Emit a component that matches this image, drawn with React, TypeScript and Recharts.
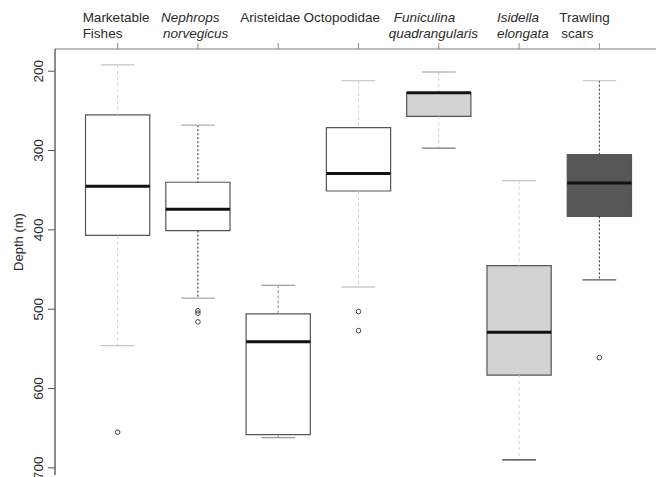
import React from "react";
import {
  ComposedChart,
  XAxis,
  YAxis,
  Scatter,
  ReferenceArea,
  ReferenceLine,
  Label,
} from "recharts";

// depth distribution (m) per category, one entry per box
const categories = [
  "Marketable Fishes",
  "Nephrops norvegicus",
  "Aristeidae",
  "Octopodidae",
  "Funiculina quadrangularis",
  "Isidella elongata",
  "Trawling scars",
];
const labelLines = [
  ["Marketable", "Fishes"],
  ["Nephrops", "norvegicus"],
  ["Aristeidae"],
  ["Octopodidae"],
  ["Funiculina", "quadrangularis"],
  ["Isidella", "elongata"],
  ["Trawling", "scars"],
];
const italicLabels = [false, true, false, false, true, true, false];

const whiskerTop = [192, 268, 470, 212, 201, 338, 212];
const quartileLow = [255, 340, 506, 271, 227, 445, 305];
const medians = [345, 374, 541, 329, 227, 529, 341];
const quartileHigh = [407, 401, 658, 351, 257, 583, 383];
const whiskerBottom = [546, 486, 662, 472, 297, 690, 463];

const outlierGroup = [1, 2, 2, 2, 4, 4, 7];
const outlierDepth = [655, 502, 505, 516, 503, 527, 561];

const depthTicks = [200, 300, 400, 500, 600, 700];

// look of each box
const boxFill = ["#ffffff", "#ffffff", "#ffffff", "#ffffff", "#d3d3d3", "#d3d3d3", "#575757"];
const whiskerStroke = ["#d0d0d0", "#222222", "#8a8a8a", "#d0d0d0", "#d0d0d0", "#d0d0d0", "#2a2a2a"];
const whiskerDash = ["3 3", "2 2", "3 2", "3 3", "3 3", "3 3", "2 2"];
const capTopStroke = ["#c4c4c4", "#b0b0b0", "#a0a0a0", "#bcbcbc", "#999999", "#c4c4c4", "#c0c0c0"];
const capBottomStroke = ["#c4c4c4", "#a8a8a8", "#999999", "#b0b0b0", "#777777", "#333333", "#555555"];
const labelDx = [[-35, -35], [-37, -35], [-38], [-55], [-45, -50], [-22, -22], [-40, -38]];

const FONT = "'Liberation Sans', Arial, Helvetica, sans-serif";
const TEXT = "#2b2b2b";
const xDomain = [0.22, 7.78];
const BOX_HALF = 0.4;
const CAP_HALF = 0.21;

const outliers = outlierGroup.map((g, i) => ({ x: g, y: outlierDepth[i] }));

function CategoryTick(props: any) {
  const { x, y, payload } = props;
  const idx = payload.value - 1;
  return (
    <g>
      {labelLines[idx].map((line, k) => (
        <text
          key={k}
          x={x + labelDx[idx][k]}
          y={y - 19 + k * 16}
          textAnchor="start"
          fontFamily={FONT}
          fontSize={13.5}
          fontStyle={italicLabels[idx] ? "italic" : "normal"}
          fill={TEXT}
        >
          {line}
        </text>
      ))}
    </g>
  );
}

function DepthTick(props: any) {
  const { x, y, payload } = props;
  const cx = x - 7;
  return (
    <text
      x={cx}
      y={y}
      transform={`rotate(-90 ${cx} ${y})`}
      textAnchor="middle"
      dominantBaseline="central"
      fontFamily={FONT}
      fontSize={13.5}
      fill={TEXT}
    >
      {payload.value}
    </text>
  );
}

function DepthTitle(props: any) {
  const { viewBox } = props;
  const cx = viewBox.x + 18;
  const cy = viewBox.y + viewBox.height / 2 - 20;
  return (
    <text
      x={cx}
      y={cy}
      transform={`rotate(-90 ${cx} ${cy})`}
      textAnchor="middle"
      dominantBaseline="central"
      fontFamily={FONT}
      fontSize={13}
      fill={TEXT}
    >
      Depth (m)
    </text>
  );
}

export default function App() {
  const marks: React.ReactNode[] = [];
  categories.forEach((name, i) => {
    const c = i + 1;
    // whiskers
    marks.push(
      <ReferenceLine
        key={`wt-${name}`}
        segment={[{ x: c, y: whiskerTop[i] }, { x: c, y: quartileLow[i] }]}
        stroke={whiskerStroke[i]}
        strokeDasharray={whiskerDash[i]}
        strokeWidth={1}
      />,
      <ReferenceLine
        key={`wb-${name}`}
        segment={[{ x: c, y: quartileHigh[i] }, { x: c, y: whiskerBottom[i] }]}
        stroke={whiskerStroke[i]}
        strokeDasharray={whiskerDash[i]}
        strokeWidth={1}
      />,
      <ReferenceLine
        key={`ct-${name}`}
        segment={[{ x: c - CAP_HALF, y: whiskerTop[i] }, { x: c + CAP_HALF, y: whiskerTop[i] }]}
        stroke={capTopStroke[i]}
        strokeWidth={1.2}
      />,
      <ReferenceLine
        key={`cb-${name}`}
        segment={[{ x: c - CAP_HALF, y: whiskerBottom[i] }, { x: c + CAP_HALF, y: whiskerBottom[i] }]}
        stroke={capBottomStroke[i]}
        strokeWidth={1.2}
      />,
      <ReferenceArea
        key={`box-${name}`}
        x1={c - BOX_HALF}
        x2={c + BOX_HALF}
        y1={quartileLow[i]}
        y2={quartileHigh[i]}
        fill={boxFill[i]}
        fillOpacity={1}
        stroke="#555555"
        strokeWidth={1.2}
      />,
      <ReferenceLine
        key={`med-${name}`}
        segment={[{ x: c - BOX_HALF, y: medians[i] }, { x: c + BOX_HALF, y: medians[i] }]}
        stroke="#111111"
        strokeWidth={3}
      />
    );
  });

  return (
    <div
      style={{
        position: "fixed",
        left: 0,
        top: 0,
        width: 656,
        height: 477,
        overflow: "hidden",
        background: "#ffffff",
      }}
    >
      <ComposedChart
        width={680}
        height={477}
        margin={{ top: 0, right: 18, bottom: 2, left: 0 }}
      >
        <XAxis
          dataKey="x"
          type="number"
          orientation="top"
          domain={xDomain}
          allowDataOverflow
          ticks={[1, 2, 3, 4, 5, 6, 7]}
          height={49}
          tickSize={6}
          tickMargin={2}
          tick={<CategoryTick />}
          axisLine={{ stroke: "#7a7a7a" }}
          tickLine={{ stroke: "#8a8a8a" }}
        />
        <XAxis
          xAxisId="frame"
          type="number"
          orientation="bottom"
          domain={xDomain}
          allowDataOverflow
          height={0}
          tick={false}
          tickLine={false}
          axisLine={{ stroke: "#d4d4d4" }}
        />
        <YAxis
          dataKey="y"
          type="number"
          reversed
          domain={[172, 709]}
          allowDataOverflow
          ticks={depthTicks}
          width={55}
          tickSize={7}
          tickMargin={2}
          tick={<DepthTick />}
          axisLine={{ stroke: "#1a1a1a" }}
          tickLine={{ stroke: "#555555" }}
        >
          <Label content={<DepthTitle />} />
        </YAxis>
        {marks}
        <Scatter
          data={outliers}
          dataKey="y"
          isAnimationActive={false}
          shape={(p: any) => (
            <circle cx={p.cx} cy={p.cy} r={2.3} fill="none" stroke="#333333" strokeWidth={0.9} />
          )}
        />
      </ComposedChart>
    </div>
  );
}
